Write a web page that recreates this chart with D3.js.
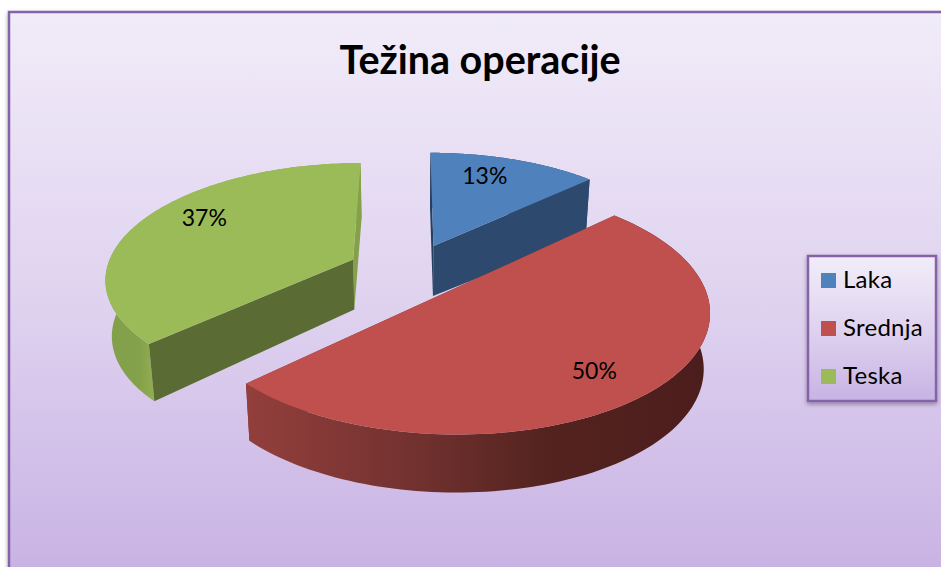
<!DOCTYPE html>
<html><head><meta charset="utf-8">
<script src="https://cdn.jsdelivr.net/npm/d3@7"></script>
<style>html,body{margin:0;padding:0;background:#fff;overflow:hidden}svg{display:block}text{font-family:Lato,sans-serif;fill:#000}</style>
</head><body><script>
const categories=["Laka","Srednja","Teska"];
const values=[13,50,37];
const percentLabels=["13%","50%","37%"];
const title="Težina operacije";
const topColors=["#4f81bd","#c0504d","#9bbb59"];
const explode=[0.246,0.23,0.255];
const sizeScale=[1,1.008,1];
const labelRadius=[0.77,0.78,0.77];
const labelTurn=[-0.08,0.065,0.13];

const W=941,H=567;
const originX=410.1,originY=270.9,radiusX=247.2,radiusY=114.3,perspective=0.152;
const pieAngles=d3.pie().sort(null)(values);
function project(i,a,r0,z){
  const r=r0*sizeScale[i];
  const d=pieAngles[i],m=(d.startAngle+d.endAngle)/2;
  const X=r*Math.sin(a)+explode[i]*Math.sin(m),Y=-r*Math.cos(a)-explode[i]*Math.cos(m),w=1-perspective*Y;
  const shrink=1-0.021*z;
  const h=z*(50+5.5*r0+2.5*Math.max(0,-Math.cos(a))*r0);
  return [originX+radiusX*X/w*shrink,originY+radiusY*Y/w+h];
}
const line=d3.line();
const rim=(i,z)=>{const d=pieAngles[i];return d3.range(0,121).map(k=>project(i,d.startAngle+(d.endAngle-d.startAngle)*k/120,1,z));};

const svg=d3.select("body").append("svg").attr("width",W).attr("height",H);
const defs=svg.append("defs");
function grad(id,x1,y1,x2,y2,stops,user){const g=defs.append("linearGradient").attr("id",id).attr("x1",x1).attr("y1",y1).attr("x2",x2).attr("y2",y2);if(user)g.attr("gradientUnits","userSpaceOnUse");stops.forEach(s=>g.append("stop").attr("offset",s[0]).attr("stop-color",s[1]));}
grad("bg",0,0,0,1,[[0,"#f1ecf9"],[0.5,"#dfd2ef"],[1,"#c6afe3"]]);
grad("lg",0,0,0,1,[[0,"#f2edf9"],[0.5,"#dfd3ef"],[1,"#c8b3e4"]]);
grad("redWall",246,0,709,0,[[0,"#933f3c"],[0.35,"#733230"],[0.65,"#54231f"],[1,"#4b1d1c"]],true);
grad("greenWall",107,0,153,0,[[0,"#82a04a"],[0.7,"#84a04b"],[1,"#91ae52"]],true);
const sh=defs.append("filter").attr("id","shadow").attr("x","-20%").attr("y","-20%").attr("width","140%").attr("height","140%");
sh.append("feDropShadow").attr("dx",0).attr("dy",2).attr("stdDeviation",2.2).attr("flood-color","#000").attr("flood-opacity",0.35);

svg.append("rect").attr("x",9).attr("y",12).attr("width",W+20).attr("height",H+20)
  .attr("fill","url(#bg)").attr("stroke","#8464a8").attr("stroke-width",2.5).attr("filter","url(#shadow)");
svg.append("text").attr("x",480).attr("y",74).attr("text-anchor","middle").attr("font-size",39.5).attr("font-weight",700).text(title);

const wallFill=["#2c4a6e","url(#redWall)","url(#greenWall)"];
const startEdge=["#25405f","#733230","#5a6b33"];
const endEdge=["#2d4a6e","#733230","#84a04a"];
const edge=(g,i,a,c)=>g.append("path").attr("d",line([project(i,a,0,0),project(i,a,1,0),project(i,a,1,1),project(i,a,0,1)])+"Z").attr("fill",c);
const rimWall=(g,i)=>g.append("path").attr("d",line(rim(i,0).concat(rim(i,1).reverse()))+"Z").attr("fill",wallFill[i]);
[0,2,1].forEach(i=>{
  const d=pieAngles[i],g=svg.append("g");
  if(i===1){edge(g,i,d.startAngle,startEdge[i]);edge(g,i,d.endAngle,endEdge[i]);rimWall(g,i);}
  else{rimWall(g,i);edge(g,i,d.endAngle,endEdge[i]);edge(g,i,d.startAngle,startEdge[i]);}
  g.append("path").attr("d",line(rim(i,0).concat([project(i,0,0,0)]))+"Z").attr("fill",topColors[i]);
});
pieAngles.forEach((d,i)=>{
  const m=(d.startAngle+d.endAngle)/2+labelTurn[i],p=project(i,m,labelRadius[i],0);
  svg.append("text").attr("x",p[0]).attr("y",p[1]+8).attr("text-anchor","middle").attr("font-size",23).text(percentLabels[i]);
});

const lg=svg.append("g");
lg.append("rect").attr("x",808).attr("y",256).attr("width",128).attr("height",145).attr("fill","url(#lg)").attr("stroke","#8464a8").attr("stroke-width",2.5).attr("filter","url(#shadow)");
const ly=d3.scalePoint().domain(categories).range([280.5,376.5]);
categories.forEach((c,i)=>{
  lg.append("rect").attr("x",821).attr("y",ly(c)-7.5).attr("width",15).attr("height",15).attr("fill",topColors[i]);
  lg.append("text").attr("x",843).attr("y",ly(c)+7).attr("font-size",24).attr("letter-spacing",0.25).text(c);
});
</script></body></html>
